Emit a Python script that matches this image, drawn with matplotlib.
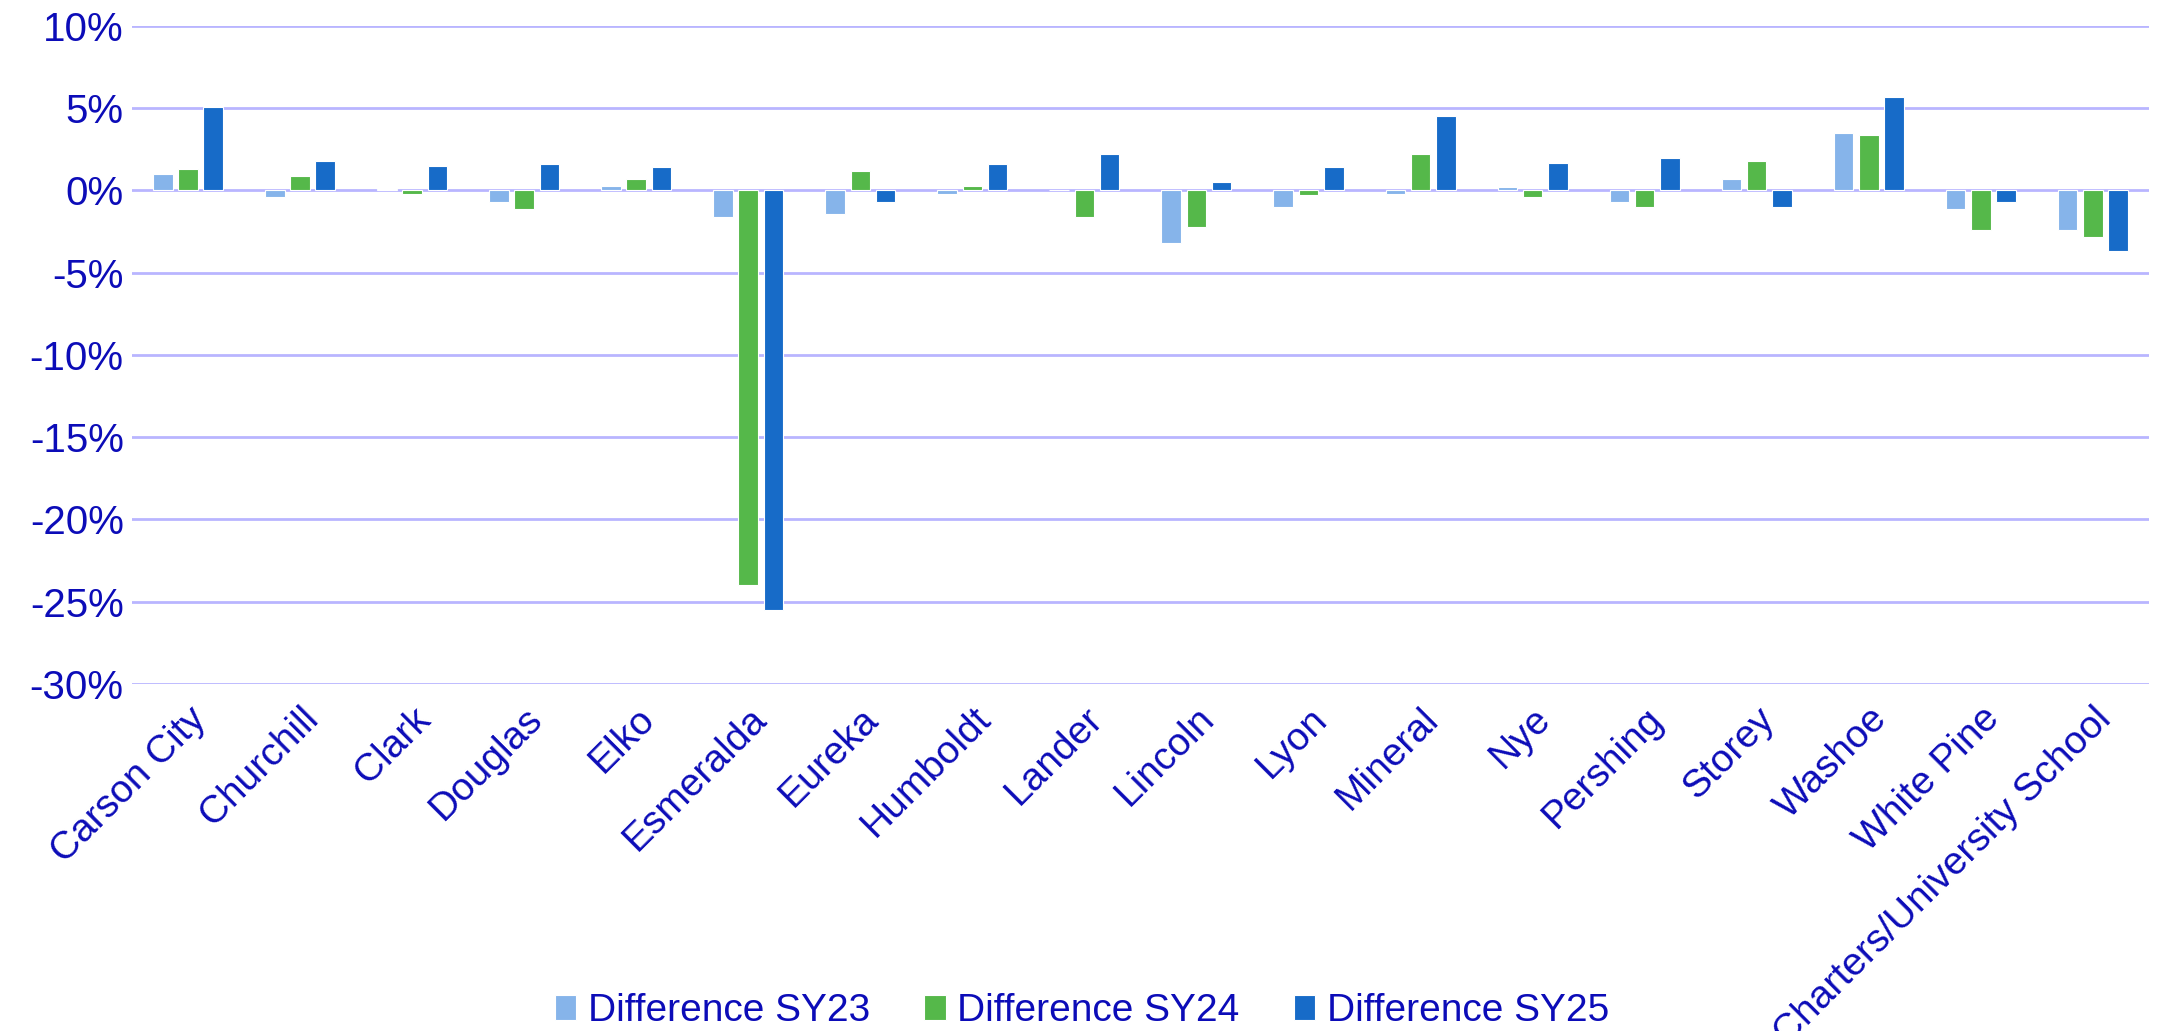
import numpy as np
import matplotlib.pyplot as plt
from matplotlib.ticker import FuncFormatter

counties = ["Carson City", "Churchill", "Clark", "Douglas", "Elko", "Esmeralda",
            "Eureka", "Humboldt", "Lander", "Lincoln", "Lyon", "Mineral", "Nye",
            "Pershing", "Storey", "Washoe", "White Pine", "Charters/University School"]

# percent differences
diff_sy23 = [1.0, -0.4, 0.1, -0.7, 0.3, -1.6, -1.4, -0.2, 0.0, -3.2, -1.0, -0.2,
             0.2, -0.7, 0.7, 3.5, -1.1, -2.4]
diff_sy24 = [1.3, 0.9, -0.2, -1.1, 0.7, -24.0, 1.2, 0.3, -1.6, -2.2, -0.3, 2.2,
             -0.4, -1.0, 1.8, 3.4, -2.4, -2.8]
diff_sy25 = [5.1, 1.8, 1.5, 1.6, 1.4, -25.5, -0.7, 1.6, 2.2, 0.5, 1.4, 4.5,
             1.7, 2.0, -1.0, 5.7, -0.7, -3.7]

series = ["Difference SY23", "Difference SY24", "Difference SY25"]
colors = ["#86b4ea", "#55b84a", "#176bc8"]
txt = "#0c0cb8"
grid = "#b9b5ff"

plt.rcParams['font.family'] = ['Liberation Sans', 'DejaVu Sans']

fig = plt.figure(figsize=(21.64, 10.31), dpi=100)
ax = fig.add_axes([0.061, 0.3366, 0.932, 0.6382])

x = np.arange(len(counties))
w = 0.175
step = 0.225
for i, (vals, name, c) in enumerate(zip([diff_sy23, diff_sy24, diff_sy25], series, colors)):
    ax.bar(x + (i - 1) * step, vals, width=w, color=c, edgecolor="white",
           linewidth=0.8, label=name, zorder=3)

ax.set_ylim(-30, 10)
ax.set_yticks(np.arange(-30, 11, 5))
ax.yaxis.set_major_formatter(FuncFormatter(lambda v, p: f"{v:.0f}%"))
ax.set_xlim(-0.5, len(counties) - 0.5)
ax.set_xticks(x)
ax.set_xticklabels(counties, rotation=45, ha="right", rotation_mode="anchor")

ax.grid(axis="y", color=grid, linewidth=2, zorder=0)
for s in ax.spines.values():
    s.set_visible(False)
ax.tick_params(axis="x", length=0, labelsize=28, colors=txt, pad=12)
ax.tick_params(axis="y", length=0, labelsize=29, colors=txt, pad=6)

fig.legend(loc="lower center", bbox_to_anchor=(0.5, -0.032), ncol=3, frameon=False,
           fontsize=28, labelcolor=txt, handlelength=0.55, handleheight=0.6,
           handletextpad=0.3, columnspacing=1.4)

fig.savefig("out.png", dpi=100)
